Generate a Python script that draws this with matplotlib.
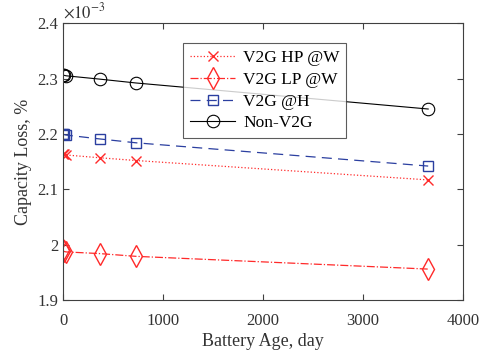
import numpy as np
import matplotlib.pyplot as plt

plt.rcParams['font.family'] = ['Liberation Serif', 'DejaVu Serif']
plt.rcParams['mathtext.fontset'] = 'stix'

days = [1, 7, 30, 365, 730, 3650]
hp_w = [2.164, 2.163, 2.162, 2.157, 2.152, 2.117]
lp_w = [1.990, 1.988, 1.987, 1.984, 1.979, 1.956]
v2g_h = [2.200, 2.199, 2.198, 2.191, 2.184, 2.142]
non_v2g = [2.307, 2.306, 2.305, 2.299, 2.292, 2.245]


def main():
    fig = plt.figure(figsize=(4.81, 3.62), dpi=100)
    ax = fig.add_axes([0.131, 0.171, 0.832, 0.765])
    red = '#ff2a2a'
    blue = '#2b3fa0'
    ax.plot(days, hp_w, ':', color=red, marker='x', ms=7, mew=1.0, lw=0.9, label='V2G HP @W')
    ax.plot(days, lp_w, '-.', color=red, marker='d', ms=11, mfc='none', mew=1.0, lw=0.9, label='V2G LP @W')
    ax.plot(days, v2g_h, '--', color=blue, marker='s', ms=7, mfc='none', mew=1.0, lw=0.9, label='V2G @H',
            dashes=(8, 5))
    ax.plot(days, non_v2g, '-', color='black', marker='o', ms=9, mfc='none', mew=0.8, lw=0.8, label='Non-V2G')

    ax.set_xlim(0, 4000)
    ax.set_ylim(1.9, 2.4)
    ax.set_xticks([0, 1000, 2000, 3000, 4000])
    ax.set_yticks([1.9, 2.0, 2.1, 2.2, 2.3, 2.4])
    ax.set_yticklabels(['1.9', '2', '2.1', '2.2', '2.3', '2.4'])
    for s in ax.spines.values():
        s.set_color('#404040')
    ax.tick_params(direction='in', colors='#404040', labelcolor='#333333', labelsize=12, length=4,
                   top=True, right=True)
    ax.tick_params(axis='x', pad=9)
    ax.set_xlabel('Battery Age, day', fontsize=13, color='#333333', labelpad=3)
    ax.set_ylabel('Capacity Loss, %', fontsize=13, color='#333333')
    ax.text(0.0, 1.005, r'$\times 10^{-3}$', transform=ax.transAxes, fontsize=12, color='#333333',
            ha='left', va='bottom')
    leg = ax.legend(loc='upper left', bbox_to_anchor=(0.30, 0.928), borderaxespad=0, fontsize=12.5,
                    frameon=True, fancybox=False, edgecolor='#333333', handlelength=2.6, borderpad=0.4,
                    labelspacing=0.32, handletextpad=0.45)
    leg.get_frame().set_linewidth(0.8)
    fig.savefig('out.png', dpi=100)


if __name__ == "__main__":
    main()
